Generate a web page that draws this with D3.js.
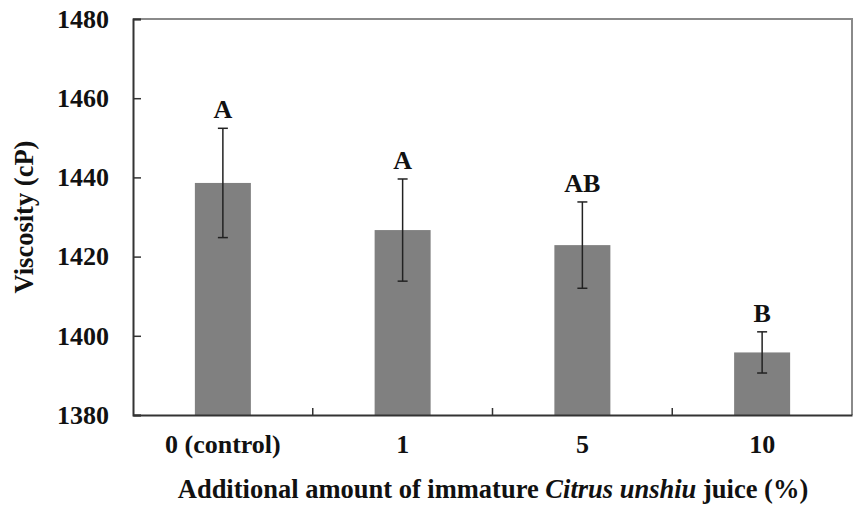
<!DOCTYPE html>
<html>
<head>
<meta charset="utf-8">
<script src="https://cdn.jsdelivr.net/npm/d3@7"></script>
<style>
  html, body { margin: 0; padding: 0; background: #fff; }
  svg { display: block; font-family: "Liberation Serif", "Times New Roman", serif; font-weight: bold; }
</style>
</head>
<body>
<div id="chart"></div>
<script>
// data
const categories = ["0 (control)", "1", "5", "10"];
const means = [1438.6, 1426.7, 1422.9, 1395.8];
const errors = [13.8, 12.9, 10.9, 5.2];
const groups = ["A", "A", "AB", "B"];
const yTicks = [1380, 1400, 1420, 1440, 1460, 1480];

const width = 853, height = 512;
const margin = { top: 19, right: 1, bottom: 97, left: 133 };
const fontSize = 26;

const svg = d3.select("#chart").append("svg")
  .attr("width", width)
  .attr("height", height);

const x = d3.scaleBand()
  .domain(categories)
  .range([margin.left, width - margin.right])
  .paddingInner(0)
  .paddingOuter(0);

const y = d3.scaleLinear()
  .domain([1380, 1480])
  .range([height - margin.bottom, margin.top]);

const barW = 56;

// frame (top + right in grey)
svg.append("path")
  .attr("d", `M${margin.left},${margin.top}H${width - margin.right}V${height - margin.bottom}`)
  .attr("fill", "none")
  .attr("stroke", "#8a8a8a")
  .attr("stroke-width", 2);

// bars
svg.append("g")
  .selectAll("rect")
  .data(means)
  .join("rect")
  .attr("x", (d, i) => x(categories[i]) + x.bandwidth() / 2 - barW / 2)
  .attr("width", barW)
  .attr("y", d => y(d))
  .attr("height", d => y(1380) - y(d))
  .attr("fill", "#808080");

// error bars
const eb = svg.append("g")
  .attr("stroke", "#222")
  .attr("stroke-width", 1.5);
means.forEach((m, i) => {
  const cx = x(categories[i]) + x.bandwidth() / 2;
  const hi = y(m + errors[i]), lo = y(m - errors[i]);
  eb.append("line").attr("x1", cx).attr("x2", cx).attr("y1", hi).attr("y2", lo);
  eb.append("line").attr("x1", cx - 5).attr("x2", cx + 5).attr("y1", hi).attr("y2", hi);
  eb.append("line").attr("x1", cx - 5).attr("x2", cx + 5).attr("y1", lo).attr("y2", lo);
});

// group letters
svg.append("g")
  .selectAll("text")
  .data(groups)
  .join("text")
  .attr("x", (d, i) => x(categories[i]) + x.bandwidth() / 2)
  .attr("y", (d, i) => y(means[i] + errors[i]) - 10)
  .attr("text-anchor", "middle")
  .attr("font-size", fontSize)
  .attr("fill", "#111")
  .text(d => d);

// y axis
const yAxis = svg.append("g")
  .attr("transform", `translate(${margin.left},0)`)
  .call(d3.axisLeft(y).tickValues(yTicks).tickSize(-8).tickPadding(24).tickFormat(d3.format("d")));
yAxis.select(".domain").attr("stroke", "#333").attr("stroke-width", 2);
yAxis.selectAll(".tick line").attr("stroke", "#333").attr("stroke-width", 1.5);
yAxis.selectAll(".tick text")
  .attr("font-size", fontSize)
  .attr("font-family", "Liberation Serif, serif")
  .attr("font-weight", "bold")
  .attr("fill", "#111");

// x axis
const xAxis = svg.append("g")
  .attr("transform", `translate(0,${height - margin.bottom})`)
  .call(d3.axisBottom(x).tickSize(0).tickPadding(20));
xAxis.select(".domain").attr("stroke", "#333").attr("stroke-width", 2);
xAxis.selectAll(".tick text")
  .attr("font-size", fontSize)
  .attr("font-family", "Liberation Serif, serif")
  .attr("font-weight", "bold")
  .attr("fill", "#111");

// small ticks between categories
svg.append("g")
  .selectAll("line")
  .data(categories.slice(1))
  .join("line")
  .attr("x1", d => x(d))
  .attr("x2", d => x(d))
  .attr("y1", y(1380))
  .attr("y2", y(1380) - 7)
  .attr("stroke", "#333")
  .attr("stroke-width", 1.5);

// axis titles
svg.append("text")
  .attr("transform", `translate(33,${(y(1380) + y(1480)) / 2}) rotate(-90)`)
  .attr("text-anchor", "middle")
  .attr("font-size", 26.5)
  .attr("fill", "#111")
  .text("Viscosity (cP)");

const xt = svg.append("text")
  .attr("x", 493)
  .attr("y", 498)
  .attr("text-anchor", "middle")
  .attr("font-size", 26.5)
  .attr("fill", "#111");
xt.append("tspan").text("Additional amount of immature ");
xt.append("tspan").attr("font-style", "italic").text("Citrus unshiu");
xt.append("tspan").text(" juice (%)");
</script>
</body>
</html>
